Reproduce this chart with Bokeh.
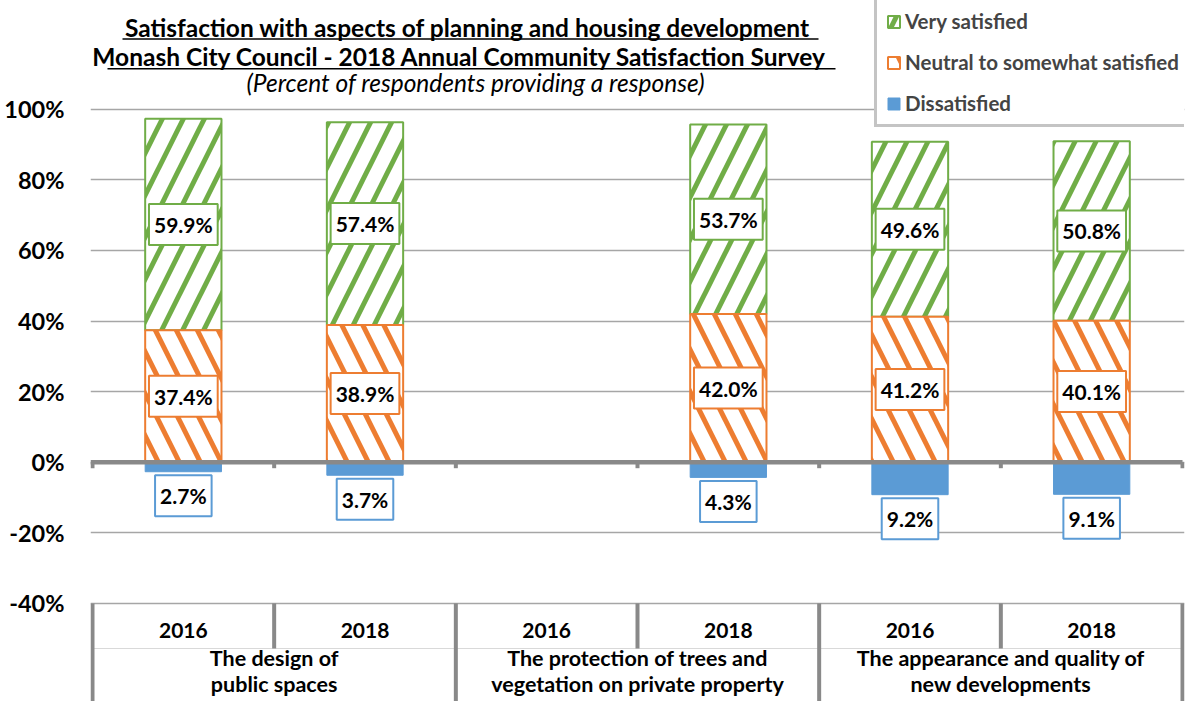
import math
from bokeh.plotting import figure
from bokeh.models import (Range1d, FixedTicker, PrintfTickFormatter, Legend,
                          LegendItem, ColumnDataSource)
from bokeh.core.properties import value
from bokeh.embed import file_html
from bokeh.resources import INLINE

# ---------------- data ----------------
groups = ["The design of\npublic spaces",
          "The protection of trees and\nvegetation on private property",
          "The appearance and quality of\nnew developments"]
years = ["2016", "2018"]
very_satisfied = [59.9, 57.4, None, 53.7, 49.6, 50.8]
neutral = [37.4, 38.9, None, 42.0, 41.2, 40.1]
dissatisfied = [2.7, 3.7, None, 4.3, 9.2, 9.1]
series_names = ["Very satisfied", "Neutral to somewhat satisfied", "Dissatisfied"]
y_ticks = [-40, -20, 0, 20, 40, 60, 80, 100]
title_lines = ["Satisfaction  with aspects of planning and housing development",
               "Monash  City Council  - 2018 Annual  Community Satisfaction  Survey",
               "(Percent  of respondents providing a response)"]

GREEN = "#70AD47"
ORANGE = "#ED7D31"
BLUE = "#5B9BD5"
AXIS_GREY = "#898989"
GRID_GREY = "#A6A6A6"
FONT = "Lato"

# ---------------- layout constants ----------------
W, H = 1186, 701
FL, FR = 90, 1184            # frame left / right in px
PX_PER_UNIT = (FR - FL - 4) / 6.0
PX_PER_PCT = 3.53
ZERO_PX = 461.7
x_lo = -2 / PX_PER_UNIT
x_hi = 6 + 2 / PX_PER_UNIT
y_lo = -(H - ZERO_PX) / PX_PER_PCT
y_hi = ZERO_PX / PX_PER_PCT


def ydat(px):
    return (ZERO_PX - px) / PX_PER_PCT


def xdat(px):
    return (px - FL) / PX_PER_UNIT + x_lo


p = figure(width=W, height=H, output_backend="svg", toolbar_location=None,
           x_range=Range1d(x_lo, x_hi), y_range=Range1d(y_lo, y_hi),
           x_axis_location=None, y_axis_location="left",
           min_border_left=FL, min_border_right=W - FR, min_border_top=0,
           min_border_bottom=0)
p.outline_line_color = None
p.xgrid.visible = False
p.ygrid.grid_line_color = GRID_GREY
p.ygrid.grid_line_width = 1.5

ax = p.yaxis[0]
ax.ticker = FixedTicker(ticks=y_ticks)
ax.formatter = PrintfTickFormatter(format="%d%%")
ax.axis_line_color = None
ax.major_tick_line_color = None
ax.minor_tick_line_color = None
ax.major_tick_out = 0
ax.major_label_standoff = 26
ax.major_label_text_font = FONT
ax.major_label_text_font_style = "bold"
ax.major_label_text_font_size = "23.5px"
ax.major_label_text_color = "black"

# ---------------- bars ----------------
n_slots = len(groups) * len(years)
idx = [i for i in range(n_slots) if very_satisfied[i] is not None]
xs = [i + 0.5 for i in idx]
v = [very_satisfied[i] for i in idx]
n = [neutral[i] for i in idx]
d = [dissatisfied[i] for i in idx]

src = ColumnDataSource(dict(
    x=xs, v=v, n=n, d=d,
    v_top=[a + b for a, b in zip(n, v)],
    neg_d=[-a for a in d],
    v_mid=[b + a / 2 for a, b in zip(v, n)],
    n_mid=[a / 2 for a in n],
    d_lab=[-a - 6.8 for a in d],
    v_txt=[f"{a:.1f}%" for a in v],
    n_txt=[f"{a:.1f}%" for a in n],
    d_txt=[f"{a:.1f}%" for a in d],
))

BW = 0.42
r_v = p.vbar(x="x", width=BW, bottom="n", top="v_top", source=src,
             fill_color="white", line_color=GREEN, line_width=2,
             hatch_pattern="/", hatch_color=GREEN, hatch_scale=42, hatch_weight=5)
r_n = p.vbar(x="x", width=BW, bottom=0, top="n", source=src,
             fill_color="white", line_color=ORANGE, line_width=2,
             hatch_pattern="\\", hatch_color=ORANGE, hatch_scale=42, hatch_weight=5)
r_d = p.vbar(x="x", width=BW, bottom="neg_d", top=0, source=src,
             fill_color=BLUE, line_color=BLUE, line_width=1)

# zero axis line with ticks
p.segment(x0=[x_lo], y0=[0], x1=[6.0], y1=[0], line_color=AXIS_GREY, line_width=4.5)
bounds = list(range(n_slots + 1))
p.segment(x0=bounds, y0=[0] * len(bounds), x1=bounds, y1=[-1.7] * len(bounds),
          line_color=AXIS_GREY, line_width=4)

# data labels
lab_kw = dict(text_font=value(FONT), text_font_style="bold", text_font_size="21px",
              text_align="center", text_baseline="middle", text_color="black",
              background_fill_color="white", border_line_width=2, padding=(5, 8))
p.text(x="x", y="v_mid", text="v_txt", source=src, border_line_color=GREEN, **lab_kw)
p.text(x="x", y="n_mid", text="n_txt", source=src, border_line_color=ORANGE, **lab_kw)
p.text(x="x", y="d_lab", text="d_txt", source=src, border_line_color=BLUE, **lab_kw)

# ---------------- category table ----------------
y_sep = ydat(648)
p.segment(x0=[0], y0=[y_sep], x1=[6], y1=[y_sep], line_color="#D9D9D9", line_width=1)
gb = [0, 2, 4, 6]
p.segment(x0=gb, y0=[-40] * 4, x1=gb, y1=[y_lo] * 4, line_color=AXIS_GREY, line_width=4)
yb = [1, 3, 5]
p.segment(x0=yb, y0=[-40] * 3, x1=yb, y1=[y_sep] * 3, line_color=AXIS_GREY, line_width=4)

p.text(x=[i + 0.5 for i in range(n_slots)], y=[ydat(630)] * n_slots,
       text=[years[i % len(years)] for i in range(n_slots)],
       text_font=value(FONT), text_font_style="bold", text_font_size="21px",
       text_align="center", text_baseline="middle", text_color="black")
p.text(x=[g * 2 + 1 for g in range(len(groups))], y=[ydat(670)] * len(groups),
       text=groups, text_font=value(FONT), text_font_style="bold",
       text_font_size="21.5px", text_align="center", text_baseline="middle",
       text_color="black", text_line_height=1.0)

# ---------------- title ----------------
p.text(x=[xdat(470), xdat(471)], y=[ydat(26.5), ydat(56)], text=title_lines[:2],
       text_font=value(FONT), text_font_style="bold", text_font_size="24.5px",
       text_align="center", text_baseline="alphabetic", text_color="black")
p.text(x=[xdat(478)], y=[ydat(82)], text=title_lines[2:],
       text_font=value(FONT), text_font_style="italic", text_font_size="24.5px",
       text_align="center", text_baseline="alphabetic", text_color="black")
p.segment(x0=[xdat(122), xdat(107)], y0=[ydat(38.5), ydat(68.3)],
          x1=[xdat(818), xdat(835)], y1=[ydat(38.5), ydat(68.3)],
          line_color="black", line_width=1.5)

# ---------------- legend ----------------
legend = Legend(items=[LegendItem(label=series_names[0], renderers=[r_v]),
                       LegendItem(label=series_names[1], renderers=[r_n]),
                       LegendItem(label=series_names[2], renderers=[r_d])],
                location=(874 - FL, H - 127), orientation="vertical",
                label_text_font=FONT, label_text_font_style="bold",
                label_text_font_size="20.5px", glyph_width=15, glyph_height=15,
                label_height=20, spacing=17, padding=9, margin=0,
                label_standoff=4, border_line_color=AXIS_GREY,
                border_line_width=3, background_fill_color="white",
                background_fill_alpha=1.0)
p.add_layout(legend)

open("out.html", "w").write(file_html(p, INLINE))
